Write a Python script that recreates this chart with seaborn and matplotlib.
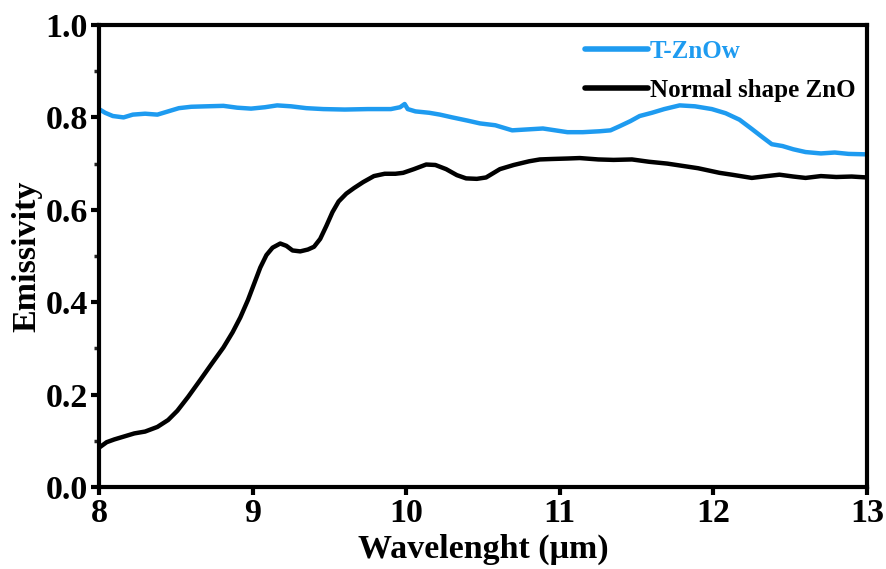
import matplotlib
matplotlib.use("Agg")
import matplotlib.pyplot as plt
import seaborn as sns
import pandas as pd
from matplotlib.ticker import MultipleLocator

# Emissivity spectra (wavelength in micrometres)
tzno_wl = [8.00, 8.04, 8.09, 8.16, 8.22, 8.30, 8.38, 8.45, 8.52, 8.60, 8.70, 8.81,
           8.90, 8.99, 9.08, 9.16, 9.25, 9.35, 9.46, 9.60, 9.75, 9.90, 9.96, 9.99,
           10.01, 10.06, 10.15, 10.22, 10.30, 10.40, 10.48, 10.58, 10.69, 10.79,
           10.89, 10.97, 11.05, 11.15, 11.26, 11.33, 11.39, 11.46, 11.52, 11.60,
           11.68, 11.78, 11.88, 11.99, 12.08, 12.17, 12.25, 12.32, 12.38, 12.45,
           12.52, 12.60, 12.70, 12.79, 12.88, 13.00]
tzno_em = [0.818, 0.810, 0.803, 0.800, 0.806, 0.808, 0.806, 0.813, 0.820, 0.823,
           0.824, 0.825, 0.821, 0.819, 0.822, 0.826, 0.824, 0.820, 0.818, 0.817,
           0.818, 0.818, 0.822, 0.829, 0.818, 0.813, 0.810, 0.806, 0.800, 0.793,
           0.787, 0.783, 0.772, 0.774, 0.776, 0.772, 0.768, 0.768, 0.770, 0.772,
           0.781, 0.792, 0.803, 0.810, 0.818, 0.826, 0.824, 0.818, 0.809, 0.795,
           0.775, 0.757, 0.742, 0.738, 0.731, 0.725, 0.722, 0.724, 0.721, 0.720]

zno_wl = [8.00, 8.05, 8.10, 8.15, 8.23, 8.30, 8.38, 8.45, 8.51, 8.58, 8.66, 8.73,
          8.81, 8.87, 8.92, 8.97, 9.01, 9.05, 9.09, 9.13, 9.18, 9.22, 9.26, 9.31,
          9.36, 9.40, 9.44, 9.48, 9.52, 9.56, 9.61, 9.66, 9.72, 9.79, 9.86, 9.93,
          9.98, 10.05, 10.13, 10.19, 10.26, 10.33, 10.39, 10.46, 10.52, 10.61,
          10.70, 10.80, 10.87, 10.95, 11.05, 11.13, 11.25, 11.35, 11.47, 11.58,
          11.70, 11.78, 11.90, 12.04, 12.12, 12.25, 12.35, 12.43, 12.52, 12.60,
          12.70, 12.80, 12.90, 13.00]
zno_em = [0.085, 0.097, 0.103, 0.108, 0.116, 0.120, 0.130, 0.145, 0.165, 0.195,
          0.232, 0.265, 0.302, 0.335, 0.367, 0.405, 0.440, 0.475, 0.502, 0.518,
          0.527, 0.522, 0.512, 0.510, 0.514, 0.520, 0.537, 0.565, 0.595, 0.618,
          0.635, 0.647, 0.660, 0.673, 0.678, 0.678, 0.680, 0.688, 0.698, 0.697,
          0.688, 0.675, 0.668, 0.667, 0.670, 0.688, 0.697, 0.705, 0.709, 0.710,
          0.711, 0.712, 0.709, 0.708, 0.709, 0.704, 0.700, 0.696, 0.690, 0.680,
          0.676, 0.669, 0.673, 0.676, 0.672, 0.669, 0.673, 0.671, 0.672, 0.670]

series_names = ["T-ZnOw", "Normal shape ZnO"]
series_colors = ["#1e9bf0", "#000000"]
x_ticks = [8, 9, 10, 11, 12, 13]
y_ticks = [0.0, 0.2, 0.4, 0.6, 0.8, 1.0]

df = pd.concat([
    pd.DataFrame({"wl": tzno_wl, "em": tzno_em, "sample": series_names[0]}),
    pd.DataFrame({"wl": zno_wl, "em": zno_em, "sample": series_names[1]}),
])

sns.set_style("ticks")
plt.rcParams["font.family"] = ["Liberation Serif", "DejaVu Serif"]
plt.rcParams["font.weight"] = "bold"
plt.rcParams["axes.labelweight"] = "bold"
plt.rcParams["axes.labelcolor"] = "black"
plt.rcParams["text.color"] = "black"

fig = plt.figure(figsize=(8.87, 5.69), dpi=100)
ax = fig.add_axes([99 / 887, 1 - 487 / 569, (867 - 99) / 887, (487 - 25) / 569])

sns.lineplot(data=df, x="wl", y="em", hue="sample", hue_order=series_names,
             palette=series_colors, linewidth=3.2, ax=ax, sort=False,
             estimator=None)

ax.set_xlim(8, 13)
ax.set_ylim(0, 1.0)
ax.set_xticks(x_ticks)
ax.set_yticks(y_ticks)
ax.set_xticklabels([str(t) for t in x_ticks])
ax.set_yticklabels([f"{t:.1f}" for t in y_ticks])
ax.yaxis.set_minor_locator(MultipleLocator(0.1))

for side in ["left", "right", "top", "bottom"]:
    ax.spines[side].set_visible(True)
    ax.spines[side].set_linewidth(3.0)
    ax.spines[side].set_color("black")

ax.tick_params(axis="both", which="major", direction="out", length=6, width=3.0,
               labelsize=24.5, pad=2, colors="black")
ax.tick_params(axis="y", which="minor", direction="out", length=3.5, width=2.5)
for lab in ax.get_xticklabels() + ax.get_yticklabels():
    lab.set_fontweight("bold")

ax.set_xlabel("Wavelenght (\u03bcm)", fontsize=24.5, fontweight="bold",
              labelpad=3, color="black")
ax.set_ylabel("Emissivity", fontsize=24.5, fontweight="bold", labelpad=2,
              color="black")

leg = ax.legend(loc="upper right", bbox_to_anchor=(1.0, 0.992), frameon=False,
                handlelength=2.5, handletextpad=0.1, labelspacing=0.65,
                borderaxespad=0.05, prop={"weight": "bold", "size": 18})
for line in leg.get_lines():
    line.set_linewidth(4)
for txt, col in zip(leg.get_texts(), series_colors):
    txt.set_color(col)

fig.savefig("out.png", dpi=100)
